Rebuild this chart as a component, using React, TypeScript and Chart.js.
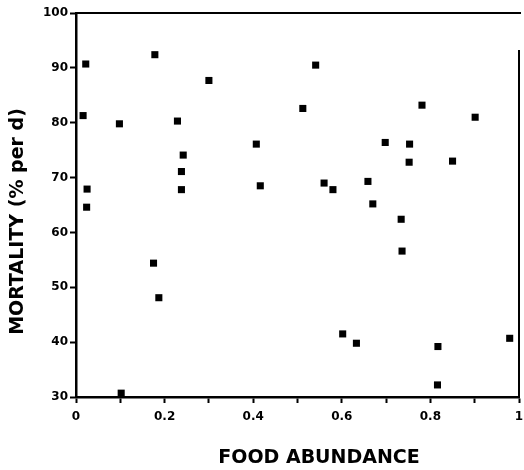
import React, { useEffect, useRef } from "react";
import { Chart, registerables } from "chart.js";

Chart.register(...registerables);

const foodAbundance = [
  0.016, 0.022, 0.025, 0.024, 0.098, 0.102, 0.178, 0.175, 0.187, 0.229,
  0.242, 0.238, 0.238, 0.300, 0.407, 0.416, 0.512, 0.541, 0.560, 0.580,
  0.602, 0.633, 0.659, 0.670, 0.698, 0.734, 0.736, 0.753, 0.752, 0.781,
  0.817, 0.816, 0.850, 0.901, 0.979,
];
const mortality = [
  81.3, 90.7, 67.9, 64.6, 79.8, 30.7, 92.4, 54.4, 48.1, 80.3,
  74.1, 71.1, 67.8, 87.7, 76.1, 68.5, 82.6, 90.5, 69.0, 67.8,
  41.5, 39.8, 69.3, 65.2, 76.4, 62.4, 56.6, 76.1, 72.8, 83.2,
  39.2, 32.2, 73.0, 81.0, 40.7,
];
const xTitle = "FOOD ABUNDANCE";
const yTitle = "MORTALITY (% per d)";

const FONT = "'DejaVu Sans', sans-serif";

const framePlugin = {
  id: "frameAndTitles",
  afterDraw(chart: any) {
    const { ctx, chartArea } = chart;
    ctx.save();
    ctx.strokeStyle = "#000";
    ctx.lineWidth = 2;
    ctx.beginPath();
    ctx.moveTo(chartArea.left, chartArea.top);
    ctx.lineTo(chartArea.right + 2, chartArea.top);
    ctx.moveTo(chartArea.right, chartArea.top + 37);
    ctx.lineTo(chartArea.right, chartArea.bottom);
    ctx.stroke();

    ctx.fillStyle = "#000";
    ctx.textAlign = "center";
    ctx.textBaseline = "middle";
    ctx.font = `bold 19px ${FONT}`;
    ctx.fillText(xTitle, 319, 458);

    ctx.translate(18.5, 221.5);
    ctx.rotate(-Math.PI / 2);
    ctx.fillText(yTitle, 0, 0);
    ctx.restore();
  },
};

export default function App() {
  const ref = useRef<HTMLCanvasElement | null>(null);

  useEffect(() => {
    document.body.style.margin = "0";
    const canvas = ref.current;
    if (!canvas) return;
    const points = foodAbundance.map((x, i) => ({ x, y: mortality[i] }));
    const chart = new Chart(canvas, {
      type: "scatter",
      data: {
        datasets: [
          {
            data: points,
            pointStyle: "rect",
            pointRadius: 5,
            pointHoverRadius: 5,
            backgroundColor: "#000",
            borderColor: "#000",
            borderWidth: 0,
          },
        ],
      },
      options: {
        responsive: false,
        animation: false,
        devicePixelRatio: 1,
        layout: { padding: { top: 13, right: 3, left: 0, bottom: 0 } },
        plugins: {
          legend: { display: false },
          tooltip: { enabled: false },
        },
        scales: {
          x: {
            type: "linear",
            min: 0,
            max: 1,
            afterFit(scale: any) {
              scale.height = 73;
              scale.paddingLeft = 0;
              scale.paddingRight = 0;
            },
            ticks: {
              stepSize: 0.1,
              autoSkip: false,
              maxRotation: 0,
              padding: 7,
              color: "#000",
              font: { family: FONT, size: 12, weight: "bold" },
              callback: (value: any, index: number) => {
                if (index % 2 !== 0) return "";
                const v = Math.round(Number(value) * 10) / 10;
                if (v === 0) return "0";
                if (v === 1) return "1";
                return v.toFixed(1);
              },
            },
            grid: {
              drawOnChartArea: false,
              drawTicks: true,
              tickLength: 6,
              tickColor: "#000",
              tickWidth: 2,
            },
            border: { display: true, color: "#000", width: 2.5 },
          },
          y: {
            type: "linear",
            min: 30,
            max: 100,
            afterFit(scale: any) {
              scale.width = 76;
              scale.paddingTop = 0;
              scale.paddingBottom = 0;
            },
            ticks: {
              stepSize: 10,
              padding: 2,
              color: "#000",
              font: { family: FONT, size: 12, weight: "bold" },
            },
            grid: {
              drawOnChartArea: false,
              drawTicks: true,
              tickLength: 6,
              tickColor: "#000",
              tickWidth: 2,
            },
            border: { display: true, color: "#000", width: 2.5 },
          },
        },
      },
      plugins: [framePlugin],
    });
    return () => chart.destroy();
  }, []);

  return (
    <div style={{ width: 524, height: 470 }}>
      <canvas ref={ref} width={524} height={470} style={{ display: "block" }} />
    </div>
  );
}
